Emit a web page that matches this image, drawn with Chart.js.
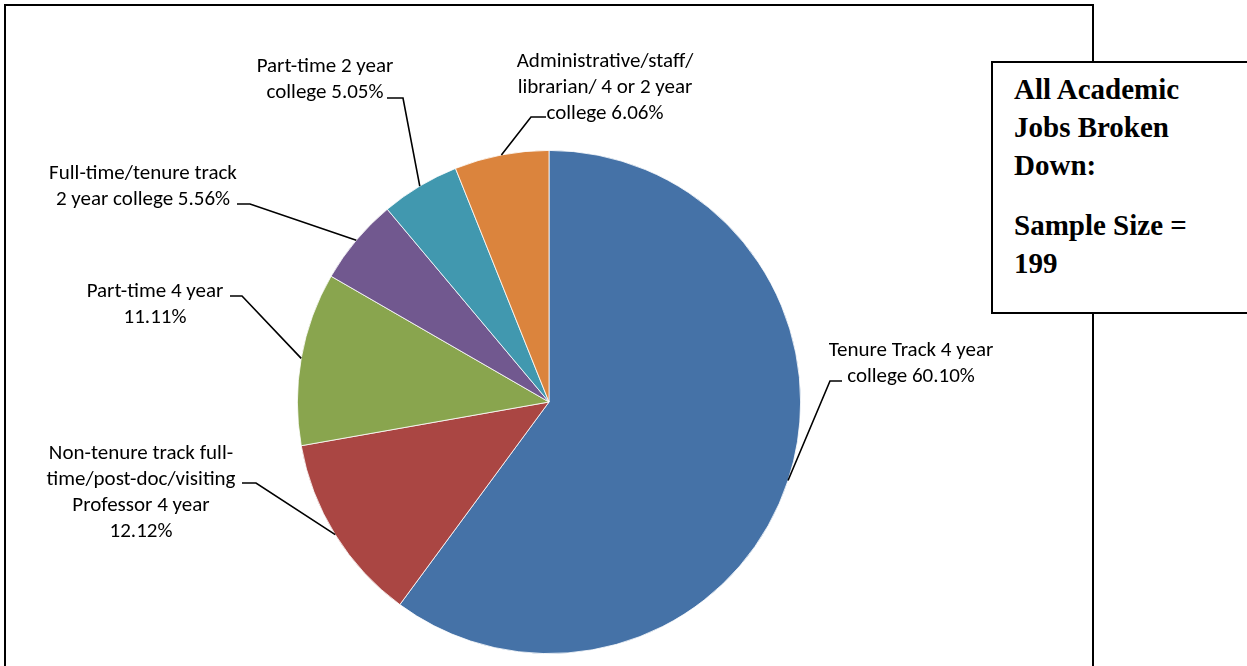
<!DOCTYPE html>
<html>
<head>
<meta charset="utf-8">
<script src="https://cdn.jsdelivr.net/npm/chart.js@4"></script>
<style>
  html, body { margin: 0; padding: 0; background: #fff; overflow: hidden; }
  #frame {
    position: absolute; left: 4px; top: 4px; width: 1086px; height: 720px;
    border: 2px solid #000; box-sizing: content-box;
  }
  #chart { position: absolute; left: 0; top: 0; }
  #note {
    position: absolute; left: 991px; top: 61px; width: 300px; height: 253px;
    border: 2px solid #000; background: #fff;
    font-family: "Liberation Serif", "Times New Roman", serif;
    font-weight: bold; font-size: 29px; line-height: 38px; color: #000;
    padding: 7px 0 0 21px; box-sizing: border-box;
  }
  #note div.gap { height: 22px; }
</style>
</head>
<body>
<div id="frame"></div>
<canvas id="chart" width="1247" height="666"></canvas>
<div id="note">
  <div>All Academic</div>
  <div>Jobs Broken</div>
  <div>Down:</div>
  <div class="gap"></div>
  <div>Sample Size =</div>
  <div>199</div>
</div>

<script>
// الفئات والقيم (بالنسبة المئوية)
const categories = [
    'Tenure Track 4 year\ncollege',
    'Non-tenure track full-\ntime/post-doc/visiting\nProfessor 4 year',
    'Part-time 4 year',
    'Full-time/tenure track\n2 year college',
    'Part-time 2 year\ncollege',
    'Administrative/staff/\nlibrarian/ 4 or 2 year\ncollege',
];
const values = [60.10, 12.12, 11.11, 5.56, 5.05, 6.06];
const colors = ['#4572A7', '#AA4643', '#89A54E', '#71588F', '#4198AF', '#DB843D'];

// مواضع التسميات والخطوط الدليلية
const labelPlace = [
    { x: 911, y: 356, elbow: [830, 381], tip: 842, pctLine: false },
    { x: 141, y: 459, elbow: [256, 483], tip: 242, pctLine: true  },
    { x: 155, y: 297, elbow: [242, 296], tip: 230, pctLine: true  },
    { x: 143, y: 179, elbow: [250, 204], tip: 237, pctLine: false },
    { x: 325, y: 72,  elbow: [403, 98],  tip: 387, pctLine: false },
    { x: 605, y: 67,  elbow: [531, 117], tip: 546, pctLine: false },
];

const leaderLabels = {
    id: 'leaderLabels',
    afterDatasetsDraw(chart) {
        const ctx  = chart.ctx;
        const arcs = chart.getDatasetMeta(0).data;
        ctx.save();
        arcs.forEach((arc, i) => {
            const p   = labelPlace[i];
            const mid = (arc.startAngle + arc.endAngle) / 2;
            const ax  = arc.x + arc.outerRadius * Math.cos(mid);
            const ay  = arc.y + arc.outerRadius * Math.sin(mid);

            ctx.strokeStyle = '#000';
            ctx.lineWidth = 1.6;
            ctx.beginPath();
            ctx.moveTo(ax, ay);
            ctx.lineTo(p.elbow[0], p.elbow[1]);
            ctx.lineTo(p.tip, p.elbow[1]);
            ctx.stroke();

            const pct   = values[i].toFixed(2) + '%';
            const text  = categories[i] + (p.pctLine ? '\n' : ' ') + pct;
            ctx.fillStyle = '#000';
            ctx.font = '21px Carlito, Lato, sans-serif';
            ctx.textAlign = 'center';
            ctx.textBaseline = 'alphabetic';
            text.split('\n').forEach((line, k) => ctx.fillText(line, p.x, p.y + k * 26));
        });
        ctx.restore();
    }
};

new Chart(document.getElementById('chart'), {
    type: 'pie',
    data: {
        labels: categories,
        datasets: [{
            data: values,
            backgroundColor: colors,
            borderColor: '#ffffff',
            borderWidth: 0.8,
        }]
    },
    options: {
        responsive: false,
        animation: false,
        layout: { padding: { left: 297, right: 446, top: 150, bottom: 12 } },
        plugins: { legend: { display: false }, tooltip: { enabled: false } }
    },
    plugins: [leaderLabels]
});
</script>
</body>
</html>
